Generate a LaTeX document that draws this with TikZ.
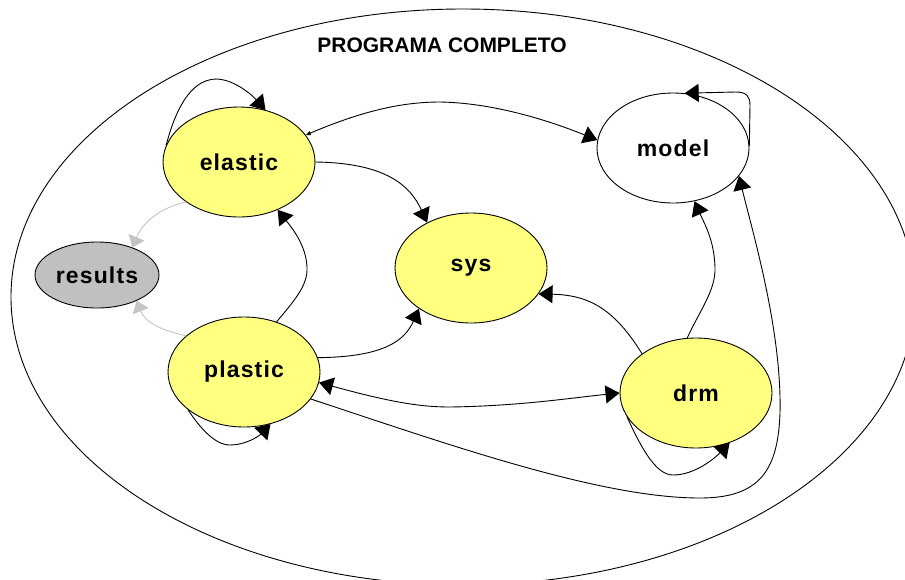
\documentclass[tikz,border=0pt]{standalone}
\usepackage{fontspec}
\setmainfont{Liberation Sans}
\newfontfamily\lblfont{Liberation Sans}[LetterSpace=5]
\usetikzlibrary{shapes.geometric,arrows.meta}

\definecolor{procyellow}{HTML}{FFFF80}
\definecolor{resgray}{HTML}{C0C0C0}
\definecolor{linkgray}{HTML}{C4C4C4}

\begin{document}
\begin{tikzpicture}[x=1pt,y=-1pt,line join=round,line cap=round,
  proc/.style={ellipse,draw,line width=0.9pt,fill=procyellow,
    minimum width=152pt,minimum height=110pt,inner sep=0pt,
    font=\fontsize{23}{25}\selectfont\lblfont\bfseries},
  heading/.style={font=\fontsize{21}{23}\selectfont\bfseries},
  flow/.style={line width=0.9pt,-{Triangle[length=14pt,width=18pt]}},
  outflow/.style={line width=0.9pt,draw=linkgray,
    -{Triangle[length=11pt,width=17pt,fill=linkgray]}}]

% frame
\useasboundingbox (0,0) rectangle (905,579);
\fill[white] (0,0) rectangle (905,579);
\clip (0,0) rectangle (905,579);
\draw[line width=0.9pt] (463,297) ellipse [x radius=452, y radius=288];

\node[heading] (title) at (442,45) {PROGRAMA COMPLETO};

% nodes
\node[proc] (elastic) at (239,162) {elastic};
\node[proc] (plastic) at (244,372) {plastic};
\node[proc] (sys)     at (471,268) {sys};
\node[proc,fill=white] (model) at (673,148) {model};
\node[proc] (drm)     at (696,393) {drm};
\node[proc,fill=resgray,minimum width=124pt,minimum height=66pt] (results) at (97,275) {results};

% self loops
\draw[flow] (elastic.167) .. controls (178,100) and (195,79) .. (217,79)
  .. controls (235,80) and (252,95) .. (elastic.63);
\draw[flow] (plastic.214) .. controls (200,428) and (215,445) .. (230,445)
  .. controls (245,445) and (258,437) .. (plastic.297);
\draw[flow] (drm.199) .. controls (640,445) and (655,475) .. (673,475)
  .. controls (695,475) and (715,458) .. (drm.304);
\draw[flow] (model.2) -- (750,105) .. controls (750,96) and (746,92) .. (736,92)
  -- (model.78);

% edges
\draw[flow,{Triangle[length=5pt,width=4pt]}-{Triangle[length=14pt,width=18pt]}]
  (elastic.22) .. controls (360,112) and (400,102) .. (440,102)
  .. controls (500,103) and (560,125) .. (model.174);
\draw[flow] (elastic.0) .. controls (385,163) and (410,185) .. (sys.134);
\draw[flow] (plastic.57) .. controls (295,300) and (308,285) .. (307,267)
  .. controls (306,245) and (292,228) .. (elastic.309);
\draw[flow] (plastic.11) .. controls (385,357) and (405,340) .. (sys.218);
\draw[flow,{Triangle[length=14pt,width=18pt]}-{Triangle[length=14pt,width=18pt]}]
  (plastic.352) .. controls (390,402) and (420,407) .. (450,407)
  .. controls (520,406) and (570,398) .. (drm.180);
\draw[flow] (plastic.338) .. controls (450,445) and (600,498) .. (700,498)
  .. controls (760,498) and (778,470) .. (780,413)
  .. controls (782,330) and (752,230) .. (model.337);
\draw[flow] (drm.144) .. controls (615,310) and (590,295) .. (sys.339);
\draw[flow] (drm.99) .. controls (700,310) and (716,290) .. (715,267)
  .. controls (714,240) and (705,225) .. (model.292);

% results
\draw[outflow] (elastic.217) .. controls (160,208) and (143,222) .. (results.38);
\draw[outflow] (plastic.148) .. controls (160,330) and (145,322) .. (results.327);

\end{tikzpicture}
\end{document}
